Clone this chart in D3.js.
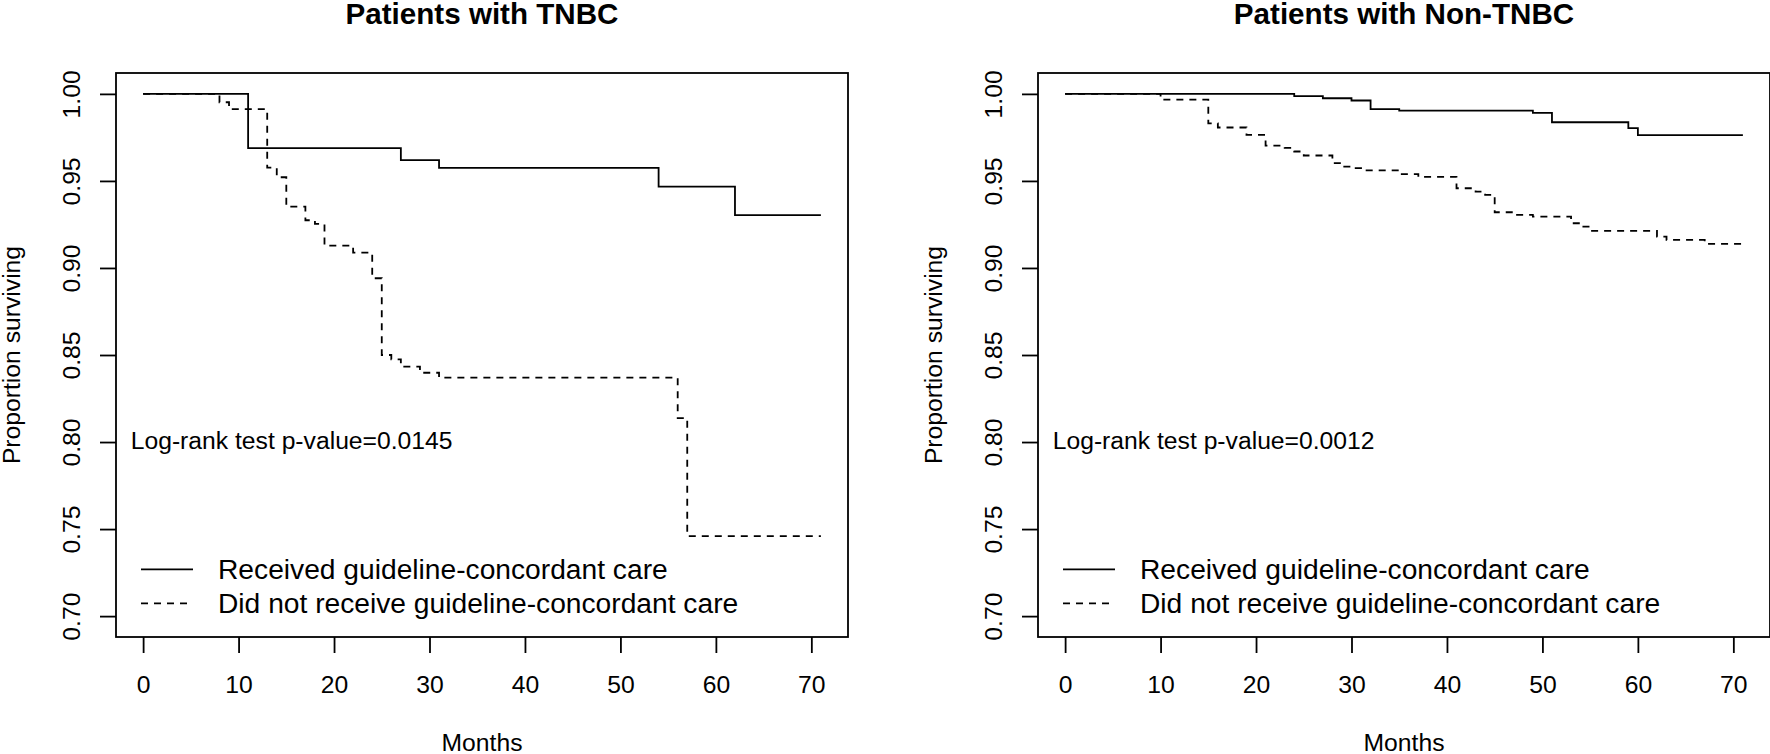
<!DOCTYPE html>
<html>
<head>
<meta charset="utf-8">
<script src="https://cdn.jsdelivr.net/npm/d3@7"></script>
<style>
  html, body { margin: 0; padding: 0; background: #fff; }
  svg { display: block; }
  text { font-family: "Liberation Sans", Arial, Helvetica, sans-serif; fill: #000; }
</style>
</head>
<body>
<svg id="chart" width="1770" height="754"></svg>
<script>
// ---- Data ----
const panelTitles = ["Patients with TNBC", "Patients with Non-TNBC"];
const pValueLabels = ["Log-rank test p-value=0.0145", "Log-rank test p-value=0.0012"];
const legendLabels = ["Received guideline-concordant care", "Did not receive guideline-concordant care"];
const xTicks = [0, 10, 20, 30, 40, 50, 60, 70];
const yTicks = [0.70, 0.75, 0.80, 0.85, 0.90, 0.95, 1.00];
const xLabel = "Months";
const yLabel = "Proportion surviving";

// TNBC
const tnbcRecvTime = [0, 11, 27, 31, 54, 62, 71];
const tnbcRecvSurv = [1, 0.9688, 0.9619, 0.9575, 0.9467, 0.9303, 0.9303];
const tnbcNotTime = [0, 8, 9, 13, 14, 15, 17, 18, 19, 22, 24, 25, 26, 27, 29, 31, 56, 57, 71];
const tnbcNotSurv = [1, 0.9952, 0.9912, 0.9576, 0.9521, 0.9352, 0.9274, 0.9253, 0.9128, 0.9088, 0.8941, 0.8500, 0.8475, 0.8433, 0.8398, 0.8370, 0.8137, 0.7459, 0.7459];

// Non-TNBC
const nonRecvTime = [0, 24, 27, 30, 32, 35, 49, 51, 59, 60, 71];
const nonRecvSurv = [1, 0.9987, 0.9975, 0.9962, 0.9912, 0.9904, 0.9891, 0.9837, 0.9803, 0.9763, 0.9763];
const nonNotTime = [0, 10, 15, 16, 19, 21, 23, 24, 25, 28, 29, 30, 31, 35, 37, 41, 43, 44, 45, 47, 49, 53, 54, 55, 62, 63, 67, 71];
const nonNotSurv = [1, 0.9967, 0.9831, 0.9807, 0.9764, 0.9703, 0.9690, 0.9669, 0.9646, 0.9602, 0.9582, 0.9573, 0.9561, 0.9539, 0.9523, 0.9458, 0.9439, 0.9420, 0.9320, 0.9305, 0.9295, 0.9257, 0.9238, 0.9213, 0.9180, 0.9161, 0.9138, 0.9138];

const panels = [
  { title: panelTitles[0], p: pValueLabels[0], recv: [tnbcRecvTime, tnbcRecvSurv], not: [tnbcNotTime, tnbcNotSurv] },
  { title: panelTitles[1], p: pValueLabels[1], recv: [nonRecvTime, nonRecvSurv], not: [nonNotTime, nonNotSurv] }
];

// ---- Layout ----
const svg = d3.select("#chart");
const boxW = 732, boxTop = 73, boxBottom = 637;
const panelLeft = [116, 1038];
const LW = 1.8;
const tickFont = 24.7, titleFont = 29.6, legendFont = 28.2;

const xDomain = [0, 71];
const xPad = (xDomain[1] - xDomain[0]) * 0.04;
const yDomain = [0.70, 1.00];
const yPad = (yDomain[1] - yDomain[0]) * 0.04;

panels.forEach((pn, i) => {
  const left = panelLeft[i];
  const x = d3.scaleLinear().domain([xDomain[0] - xPad, xDomain[1] + xPad]).range([left, left + boxW]);
  const y = d3.scaleLinear().domain([yDomain[0] - yPad, yDomain[1] + yPad]).range([boxBottom, boxTop]);
  const g = svg.append("g");

  // box
  g.append("rect").attr("x", left).attr("y", boxTop).attr("width", boxW).attr("height", boxBottom - boxTop)
    .attr("fill", "none").attr("stroke", "#000").attr("stroke-width", LW);

  // x axis
  const xa = g.append("g").attr("transform", `translate(0,${boxBottom})`)
    .call(d3.axisBottom(x).tickValues(xTicks).tickFormat(d3.format("d")).tickSize(16));
  xa.select(".domain").remove();
  xa.selectAll("line").attr("stroke", "#000").attr("stroke-width", LW);
  xa.selectAll("text").attr("y", 56).attr("dy", 0).attr("font-size", tickFont)
    .attr("font-family", "Liberation Sans, Arial, sans-serif").attr("fill", "#000");

  // y axis
  const ya = g.append("g").attr("transform", `translate(${left},0)`)
    .call(d3.axisLeft(y).tickValues(yTicks).tickFormat(d3.format(".2f")).tickSize(16));
  ya.select(".domain").remove();
  ya.selectAll("line").attr("stroke", "#000").attr("stroke-width", LW);
  ya.selectAll("text").attr("x", null).attr("dy", null).attr("y", null)
    .attr("transform", "translate(-36,0) rotate(-90)")
    .attr("text-anchor", "middle").attr("font-size", tickFont)
    .attr("font-family", "Liberation Sans, Arial, sans-serif").attr("fill", "#000");

  // axis titles
  g.append("text").attr("x", left + boxW / 2).attr("y", 751).attr("text-anchor", "middle")
    .attr("font-size", tickFont).text(xLabel);
  g.append("text").attr("transform", `translate(${left - 96},${(boxTop + boxBottom) / 2}) rotate(-90)`)
    .attr("text-anchor", "middle").attr("font-size", tickFont).text(yLabel);

  // title
  g.append("text").attr("x", left + boxW / 2).attr("y", 24).attr("text-anchor", "middle")
    .attr("font-size", titleFont).attr("font-weight", "bold").text(pn.title);

  // curves
  const line = d3.line().x(d => x(d[0])).y(d => y(d[1])).curve(d3.curveStepAfter);
  const recvData = pn.recv[0].map((t, k) => [t, pn.recv[1][k]]);
  const notData = pn.not[0].map((t, k) => [t, pn.not[1][k]]);
  g.append("path").datum(notData).attr("d", line).attr("fill", "none")
    .attr("stroke", "#000").attr("stroke-width", LW).attr("stroke-dasharray", "7,6");
  g.append("path").datum(recvData).attr("d", line).attr("fill", "none")
    .attr("stroke", "#000").attr("stroke-width", LW);

  // p-value
  g.append("text").attr("x", left + 14.7).attr("y", 449.3).attr("font-size", tickFont).text(pn.p);

  // legend
  const legY = [569.3, 603.3];
  legendLabels.forEach((lab, k) => {
    g.append("line").attr("x1", left + 25).attr("x2", left + 77).attr("y1", legY[k]).attr("y2", legY[k])
      .attr("stroke", "#000").attr("stroke-width", LW).attr("stroke-dasharray", k === 1 ? "7,6" : null);
    g.append("text").attr("x", left + 102).attr("y", legY[k] + 10).attr("font-size", legendFont).text(lab);
  });
});
</script>
</body>
</html>
